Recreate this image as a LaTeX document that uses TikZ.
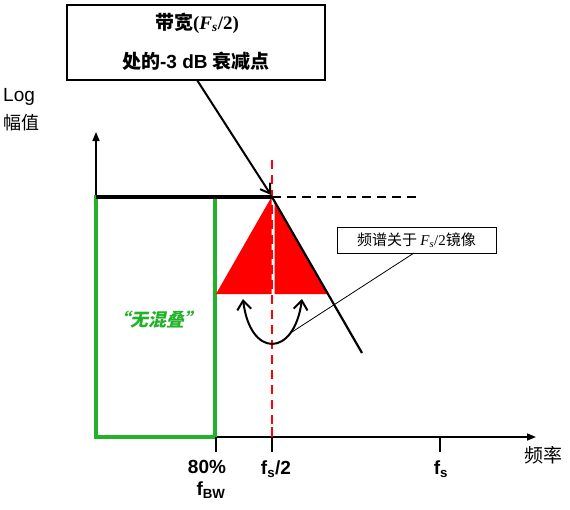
\documentclass[tikz,border=0pt]{standalone}
\usepackage{fontspec}
\setmainfont{Liberation Sans}
\newfontfamily\cjkfont{Noto Sans CJK SC}
\newfontfamily\cjkslfont{Noto Sans CJK SC}[FakeSlant=0.2]
\newfontfamily\serifbf{Liberation Serif}
\usetikzlibrary{arrows.meta}
\definecolor{grn}{RGB}{34,177,40}
\definecolor{rd}{RGB}{255,0,0}
\tikzset{
  axis/.style={line width=1.6pt,-{Triangle[length=9pt,width=7pt]}},
  tick/.style={line width=2pt},
  lbl/.style={font=\fontsize{19}{21}\selectfont\bfseries, inner sep=0pt},
  titletext/.style={font=\fontsize{19}{22}\selectfont\bfseries, inner sep=0pt},
}
\begin{document}
\begin{tikzpicture}[x=1pt,y=-1pt]
\path[use as bounding box] (0,0) rectangle (570,509);
% axes
\coordinate (O) at (96,437);
\coordinate (ytip) at (96,132);
\coordinate (xtip) at (536,437);
\draw[axis] (O) -- (ytip);
\draw[axis] (O) -- (xtip);
% green passband
\draw[grn, line width=4pt] (96,197) rectangle (215,437);
% red triangles
\fill[rd] (216,294) -- (271.5,197) -- (271.5,294) -- cycle;
\fill[rd] (274.5,200) -- (328,294) -- (274.5,294) -- cycle;
% red dashed fs/2 line
\draw[rd, line width=2pt, dash pattern=on 9pt off 6pt] (271.5,160) -- (271.5,427);
\draw[rd, line width=2pt] (271.5,427) -- (271.5,437);
% top black line and dashed continuation
\coordinate (peak) at (272,197);
\coordinate (dashend) at (420,197);
\coordinate (topstart) at (96,197);
\draw[line width=3.5pt] (topstart) -- (peak);
\draw[line width=2pt, dash pattern=on 9pt off 6pt] (peak) -- (dashend);
% roll-off line
\coordinate (roll) at (362,353);
\draw[line width=2.2pt] (peak) -- (roll);
% ticks
\coordinate (ta) at (216,437); \coordinate (tab) at (216,452);
\coordinate (tb) at (272,437); \coordinate (tbb) at (272,452);
\coordinate (tc) at (440,437); \coordinate (tcb) at (440,452);
\draw[tick] (ta) -- (tab);
\draw[tick] (tb) -- (tbb);
\draw[tick] (tc) -- (tcb);
% title box
\node[draw, line width=1.4pt, minimum width=258pt, minimum height=75pt, inner sep=0pt] (title) at (196,42.5) {};
\node[titletext] (titleA) at (197,23) {\cjkfont 带宽\serifbf{(}\itshape F\textsubscript{s}\upshape /2{)}};
\node[titletext] (titleB) at (196,61) {\cjkfont 处的\rmfamily -3 dB \cjkfont 衰减点};
\coordinate (arrstart) at (197,80);
\coordinate (arrend) at (271,195);
\draw[line width=2pt, -{Straight Barb[length=9pt,width=12pt,line width=2pt]}] (arrstart) -- (arrend);
% mirror arrow
\coordinate (ml) at (243,299);
\coordinate (mr) at (302,299);
\draw[line width=2pt, {Straight Barb[length=9pt,width=14pt,line width=2pt]}-{Straight Barb[length=9pt,width=14pt,line width=2pt]}] (ml) .. controls (250,358) and (294,358) .. (mr);
% callout
\node[draw, line width=0.8pt, minimum width=159pt, minimum height=26pt, inner sep=0pt, font=\fontsize{15}{16}\selectfont] (call) at (416.5,240) {\cjkfont 频谱关于 \serifbf\mdseries\itshape F\textsubscript{s}\upshape/2\cjkfont 镜像};
\coordinate (callstart) at (414,253);
\coordinate (callend) at (292,332);
\draw[line width=0.8pt] (callstart) -- (callend);
% labels
\node[font=\fontsize{19}{22}\selectfont, anchor=west, inner sep=0pt] (log) at (3,97) {Log};
\node[font=\fontsize{18}{22}\selectfont, anchor=west, inner sep=0pt] (amp) at (3,123) {\cjkfont 幅值};
\node[text=grn, inner sep=0pt, font=\fontsize{18}{22}\selectfont\bfseries] (noalias) at (157,320) {\cjkslfont “无混叠”};
\node[lbl] (l80) at (207,467) {80\%};
\node[lbl] (lbw) at (211,490) {f\textsubscript{BW}};
\node[lbl] (lfs2) at (276,469) {f\textsubscript{s}/2};
\node[lbl] (lfs) at (441,469) {f\textsubscript{s}};
\node[inner sep=0pt, font=\fontsize{19}{22}\selectfont] (freq) at (543,455) {\cjkfont 频率};
\end{tikzpicture}
\end{document}
